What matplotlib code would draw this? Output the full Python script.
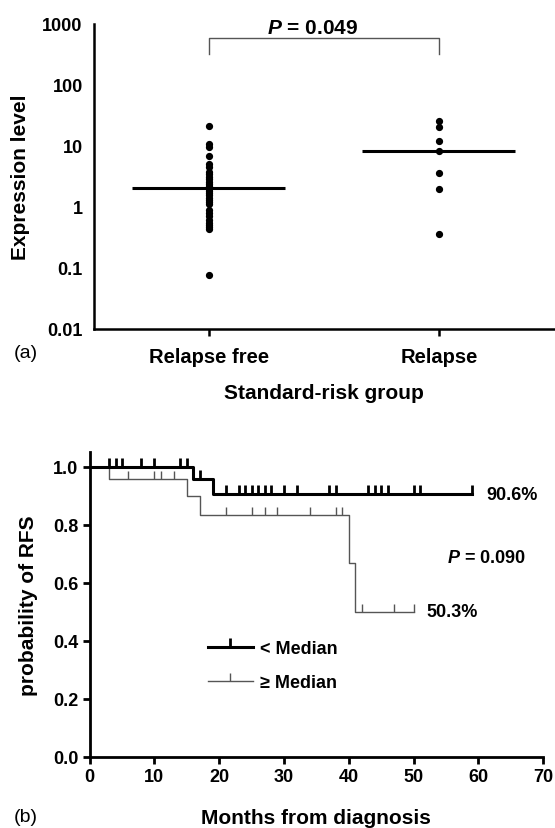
"""
Expression level by relapse status (a) and RFS Kaplan-Meier curves (b)
"""

import numpy as np
import matplotlib.pyplot as plt
from matplotlib.lines import Line2D

plt.rcParams["font.family"] = ["Liberation Sans", "DejaVu Sans"]
plt.rcParams["font.weight"] = "bold"
plt.rcParams["mathtext.fontset"] = "custom"
plt.rcParams["mathtext.it"] = "Liberation Sans:italic:bold"
plt.rcParams["mathtext.rm"] = "Liberation Sans:bold"

# ---- panel (a) data ----
groups = ["Relapse free", "Relapse"]
relapse_free = [21.5, 10.8, 9.6, 6.9, 5.1, 4.5,
                3.7, 3.4, 3.1, 2.9, 2.6, 2.4, 2.2, 2.0, 1.85, 1.7, 1.55, 1.4, 1.3, 1.2, 1.12,
                0.88, 0.78, 0.7, 0.62, 0.55, 0.5, 0.46, 0.43,
                0.077]
relapse = [26.0, 20.7, 11.9, 8.1, 3.65, 1.97, 0.356]
medians = [2.05, 8.1]
p_a = "0.049"
bracket_top = 583
bracket_foot = 322
yticks_a = [0.01, 0.1, 1, 10, 100, 1000]
yticklabels_a = ["0.01", "0.1", "1", "10", "100", "1000"]

# ---- panel (b) data ----
low_t = [0, 16, 19, 59]
low_s = [1.0, 0.958, 0.906, 0.906]
low_cens = [3, 4, 5, 8, 10, 14, 15, 17, 21, 23, 24, 25, 26, 27, 28, 30, 32,
            37, 38, 43, 44, 45, 46, 50, 51, 59]
high_t = [0, 3, 15, 17, 40, 41, 50]
high_s = [1.0, 0.958, 0.9, 0.834, 0.667, 0.5, 0.5]
high_cens = [6, 10, 11, 13, 21, 25, 27, 29, 34, 38, 39, 42, 47, 50]
p_b = "0.090"


def surv_at(t_steps, s_steps, t):
    idx = np.searchsorted(t_steps, t, side="right") - 1
    return np.array(s_steps)[idx]


fig = plt.figure(figsize=(5.55, 8.29), dpi=100)

# ================= panel (a) =================
ax = fig.add_axes([0.169, 0.602, 0.829, 0.368])
ax.set_yscale("log")
ax.set_ylim(0.01, 1000)
ax.set_xlim(0.5, 2.5)

ax.plot([1] * len(relapse_free), relapse_free, "o", color="black", ms=4.2, clip_on=False)
ax.plot([2] * len(relapse), relapse, "o", color="black", ms=4.2, clip_on=False)
for i, m in enumerate(medians):
    ax.hlines(m, i + 1 - 0.333, i + 1 + 0.333, color="black", lw=2.2)

# bracket with P value
ax.plot([1, 1, 2, 2], [bracket_foot, bracket_top, bracket_top, bracket_foot],
        color="#555555", lw=1.0, clip_on=False)
ax.text(1.45, bracket_top * 1.22, r"$P$ = " + p_a, ha="center", va="baseline",
        fontsize=15, fontweight="bold")

ax.set_xticks([1, 2])
ax.set_xticklabels(groups, fontsize=14.5, fontweight="bold")
ax.set_yticks(yticks_a)
ax.set_yticklabels(yticklabels_a, fontsize=13, fontweight="bold")
ax.minorticks_off()
ax.tick_params(axis="y", length=0, pad=8)
ax.tick_params(axis="x", length=5, width=1.8, pad=8)
ax.set_ylabel("Expression level", fontsize=15, fontweight="bold", labelpad=9)
ax.set_xlabel("Standard-risk group", fontsize=15, fontweight="bold", labelpad=12)
for s in ["top", "right"]:
    ax.spines[s].set_visible(False)
for s in ["left", "bottom"]:
    ax.spines[s].set_linewidth(1.8)
fig.text(0.025, 1 - 354 / 829, "(a)", fontsize=14, fontweight="normal", va="center")

# ================= panel (b) =================
bx = fig.add_axes([0.1615, 0.086, 0.817, 0.367])
bx.set_xlim(0, 70)
bx.set_ylim(0, 1.05)

bx.step(high_t, high_s, where="post", color="#555555", lw=1.0)
bx.plot(high_cens, surv_at(high_t, high_s, high_cens), linestyle="none", marker=2,
        ms=6, mew=1.0, color="#555555")
bx.step(low_t, low_s, where="post", color="black", lw=2.2)
bx.plot(low_cens, surv_at(low_t, low_s, low_cens), linestyle="none", marker=2,
        ms=6.5, mew=2.0, color="black")

bx.text(61.3, low_s[-1], "90.6%", fontsize=13, fontweight="bold", va="center")
bx.text(52.0, high_s[-1], "50.3%", fontsize=13, fontweight="bold", va="center")
bx.text(55.2, 0.688, r"$P$ = " + p_b, fontsize=13, fontweight="bold", va="center")

handles = [
    Line2D([], [], color="black", lw=2.2, marker=2, ms=6.5, mew=2.0),
    Line2D([], [], color="#555555", lw=1.0, marker=2, ms=6, mew=1.0),
]
bx.legend(handles, ["< Median", "\u2265 Median"], loc="upper left",
          bbox_to_anchor=(18.2, 0.402), bbox_transform=bx.transData,
          frameon=False, numpoints=1, handlelength=2.5, handletextpad=0.4,
          labelspacing=0.95, borderpad=0, borderaxespad=0,
          prop={"size": 13, "weight": "bold"})

bx.set_xticks(np.arange(0, 71, 10))
bx.set_yticks(np.arange(0, 1.01, 0.2))
bx.set_yticklabels([f"{v:.1f}" for v in np.arange(0, 1.01, 0.2)])
bx.tick_params(labelsize=13, length=5, width=2.0, pad=3)
for lab in bx.get_xticklabels() + bx.get_yticklabels():
    lab.set_fontweight("bold")
bx.set_ylabel("probability of RFS", fontsize=15, fontweight="bold", labelpad=11)
bx.set_xlabel("Months from diagnosis", fontsize=15, fontweight="bold", labelpad=17)
for s in ["top", "right"]:
    bx.spines[s].set_visible(False)
for s in ["left", "bottom"]:
    bx.spines[s].set_linewidth(2.0)
fig.text(0.025, 1 - 818 / 829, "(b)", fontsize=14, fontweight="normal", va="center")

fig.savefig("out.png", dpi=100)
